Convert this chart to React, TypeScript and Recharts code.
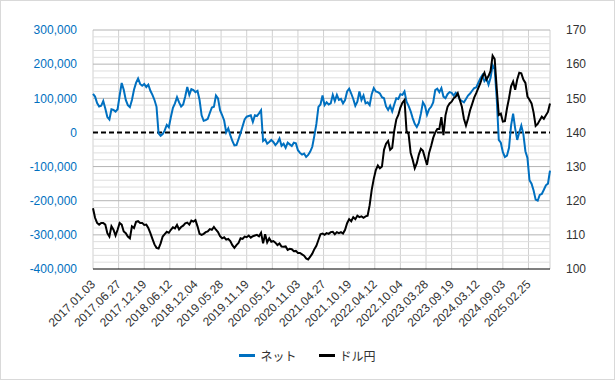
import { LineChart, Line, XAxis, YAxis, ReferenceLine, CartesianGrid } from "recharts";

const tickLabels = [
  "2017.01.03", "2017.06.27", "2017.12.19", "2018.06.12", "2018.12.04", "2019.05.28",
  "2019.11.19", "2020.05.12", "2020.11.03", "2021.04.27", "2021.10.19", "2022.04.12",
  "2022.10.04", "2023.03.28", "2023.09.19", "2024.03.12", "2024.09.03", "2025.02.25",
];
const weeksPerTick = 25;
const weekStep = 2;
const lastWeek = 446;

// ネット (thousands), one value every 2 weeks
const netThousands = [
  113, 105, 86, 76, 78, 92, 70, 45, 38, 68, 66, 61, 68, 108, 145, 125, 95, 80, 74, 95, 125, 145, 158, 142, 137, 142, 133, 140,
  122, 110, 95, 75, -3, -10, -5, 6, 22, 15, 45, 72, 85, 103, 88, 76, 82, 105, 133, 110, 127, 124, 118, 122, 95, 50, 34, 36,
  40, 57, 73, 75, 108, 100, 65, 51, 35, 0, 12, -8, -25, -38, -37, -20, -2, 18, 38, 46, 48, 50, 31, 50, 48, 56, 65, -25,
  -20, -33, -28, -22, -28, -37, -30, -18, -39, -33, -45, -30, -35, -40, -30, -32, -52, -60, -65, -62, -72, -66, -56, -42, -10, 25, 75, 82,
  108, 80, 88, 82, 85, 110, 92, 110, 95, 98, 85, 95, 120, 128, 114, 98, 78, 90, 120, 95, 108, 85, 88, 80, 112, 130, 120, 118,
  114, 103, 100, 76, 66, 78, 62, 82, 100, 98, 112, 110, 120, 90, 78, 62, 42, 25, 16, 28, 55, 88, 78, 52, 68, 75, 88,
  124, 128, 118, 130, 105, 100, 112, 118, 116, 108, 116, 110, 96, 92, 88, 98, 108, 114, 122, 130, 132, 145, 158, 168, 150, 158, 140, 160,
  197, 185, 100, -22, -30, -58, -72, -68, -45, 20, 55, 12, -22, 0, 20, -5, -55, -75, -140, -150, -170, -197, -200, -183, -180, -168, -155, -150, -112,
];

// ドル円
const usdJpy = [
  117.8, 115, 113.5, 113, 113.5, 113.5, 113, 110.5, 109.5, 112.5, 111.5, 109.8, 111.5, 113.5, 113, 111, 110.5, 109.5, 109, 112.5, 112, 113.8, 114, 113.5, 113.5, 112.9, 113, 112,
  110.5, 108.8, 107.2, 106.2, 106.0, 107.5, 109.5, 110.2, 110.9, 110.6, 111.5, 112.2, 111.9, 112.9, 111.6, 112.3, 112.7, 113.4, 113.6, 113.0, 114.2, 113.9, 114.3, 112.5, 110.3, 110.0, 110.3, 110.8,
  111.0, 111.7, 111.5, 112.3, 111.5, 110.8, 109.6, 109.0, 109.3, 108.6, 108.8, 108.2, 107.0, 106.2, 107.0, 107.6, 109.0, 108.8, 109.5, 109.3, 109.8, 109.2, 109.6, 109.8, 110.0, 109.6, 110.6, 107.5,
  110.2, 107.8, 109.0, 108.0, 108.2, 107.7, 107.0, 107.5, 106.6, 106.5, 106.6, 105.6, 105.9, 105.8, 105.2, 105.3, 104.7, 104.7, 104.3, 103.9, 103.1, 102.8, 103.6, 104.5, 105.8, 106.8, 108.5, 110.2,
  110.4, 110.0, 110.5, 110.3, 110.8, 110.9, 110.2, 110.8, 110.5, 110.8, 110.4, 111.5, 113.4, 114.6, 114.0, 115.2, 114.6, 115.6, 115.2, 115.4, 115.0, 115.4, 115.6, 118.7, 123.2, 126.4, 129.0, 130.3,
  129.5, 130, 134.9, 136.7, 137.5, 134.9, 135.5, 140.5, 143.8, 145.1, 147.3, 148.7, 149.5, 140.4, 139.5, 134, 132, 129.5, 131, 133.5, 135.2, 134.6, 132.5, 130.5, 134, 136, 138.4,
  140, 141, 141, 144.5, 139.2, 145, 147.5, 148.5, 149, 150, 150.5, 151.5, 149.5, 147.5, 144, 142, 144, 146.5, 148.3, 150.2, 151.5, 153, 154.4, 156.3, 157.5, 155.5, 156.5, 158,
  162.5, 161.5, 152.9, 145.1, 145.5, 143.2, 143.3, 147, 150, 153.5, 154.9, 152.5, 155.5, 157.5, 157.3, 155.5, 154.5, 150.5, 149.6, 148.5, 145.8, 141.9, 142.5, 143.6, 144.6, 144, 145, 146, 148.5,
];

const leftTicks = [-400000, -300000, -200000, -100000, 0, 100000, 200000, 300000];
const rightTicks = [100, 110, 120, 130, 140, 150, 160, 170];
const minorLines = Array.from({ length: 34 }, (_, i) => -380000 + i * 20000).filter(v => v % 100000 !== 0);

const BLUE = "#0070C0";
const FONT = "'Liberation Sans', Arial, sans-serif";

const data = netThousands.map((v, i) => ({ week: i * weekStep, net: v * 1000, usdjpy: usdJpy[i] }));
const xTicks = tickLabels.map((_, i) => i * weeksPerTick);

function DateTick({ x, y, payload }: any) {
  const label = tickLabels[Math.round(payload.value / weeksPerTick)];
  return (
    <text
      x={x + 3}
      y={y + 8}
      transform={`rotate(-45, ${x + 3}, ${y + 8})`}
      textAnchor="end"
      fontSize={12}
      fontFamily={FONT}
      fill="#333"
    >
      {label}
    </text>
  );
}

export default function App() {
  return (
    <div style={{ position: "absolute", left: 0, top: 0, width: 615, height: 380, background: "#fff" }}>
      <LineChart width={615} height={380} data={data} margin={{ top: 30, right: 15, bottom: 0, left: 10 }}>
        <CartesianGrid horizontal={false} stroke="#d0d0d0" yAxisId="left" />
        {minorLines.map(v => (
          <ReferenceLine key={v} y={v} yAxisId="left" stroke="#dedede" strokeWidth={1} />
        ))}
        {leftTicks.filter(v => v !== 0 && v !== -400000).map(v => (
          <ReferenceLine key={"m" + v} y={v} yAxisId="left" stroke="#b4b4b4" strokeWidth={1} />
        ))}
        <XAxis
          dataKey="week"
          type="number"
          domain={[0, lastWeek]}
          ticks={xTicks}
          interval={0}
          height={111}
          tickLine={false}
          axisLine={{ stroke: "#000", strokeWidth: 1 }}
          tick={<DateTick />}
        />
        <YAxis
          yAxisId="left"
          domain={[-400000, 300000]}
          ticks={leftTicks}
          width={83}
          axisLine={false}
          tickLine={false}
          tickMargin={10}
          tick={{ fontSize: 12, fill: BLUE, fontFamily: FONT }}
          tickFormatter={(v: number) => v.toLocaleString("en-US")}
        />
        <YAxis
          yAxisId="right"
          orientation="right"
          domain={[100, 170]}
          ticks={rightTicks}
          width={50}
          axisLine={false}
          tickLine={false}
          tickMargin={10}
          tick={{ fontSize: 12, fill: "#333", fontFamily: FONT }}
        />
        <ReferenceLine y={0} yAxisId="left" stroke="#000" strokeWidth={2} strokeDasharray="5 3" />
        <Line yAxisId="left" dataKey="net" stroke={BLUE} strokeWidth={2} dot={false} isAnimationActive={false} />
        <Line yAxisId="right" dataKey="usdjpy" stroke="#000" strokeWidth={2} dot={false} isAnimationActive={false} />
      </LineChart>
      <div
        style={{
          position: "absolute", top: 347, left: 0, width: 615, display: "flex", justifyContent: "center",
          gap: 22, fontSize: 12, fontFamily: "'Noto Sans CJK JP', sans-serif", color: "#333",
        }}
      >
        <div style={{ display: "flex", alignItems: "center", gap: 5 }}>
          <span style={{ display: "inline-block", width: 16, height: 3, background: BLUE }} />
          <span>ネット</span>
        </div>
        <div style={{ display: "flex", alignItems: "center", gap: 5 }}>
          <span style={{ display: "inline-block", width: 16, height: 3, background: "#000" }} />
          <span>ドル円</span>
        </div>
      </div>
      <div style={{ position: "absolute", inset: 0, border: "1px solid #d9d9d9", pointerEvents: "none" }} />
    </div>
  );
}
